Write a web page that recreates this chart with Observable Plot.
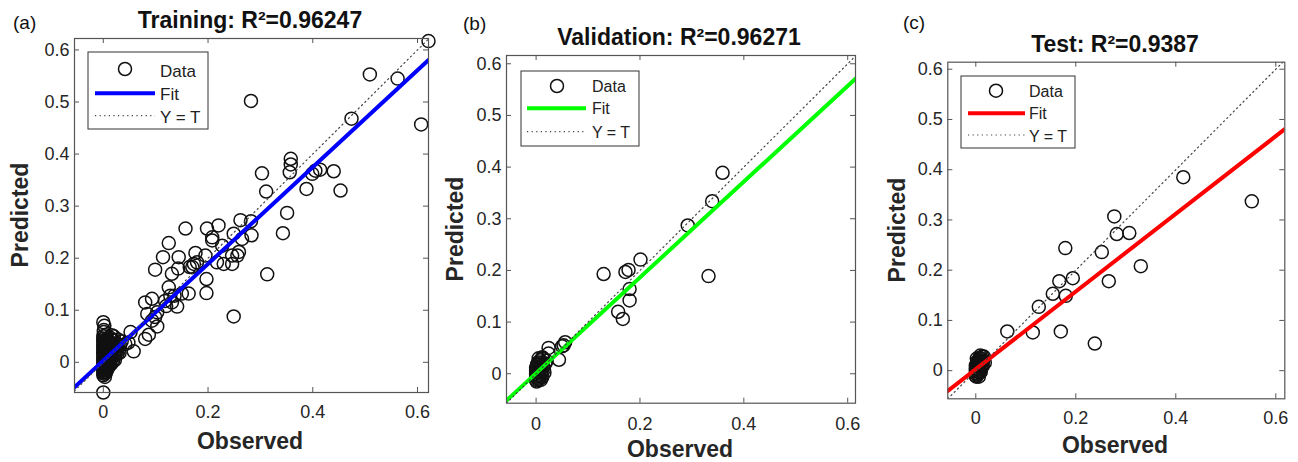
<!DOCTYPE html>
<html><head><meta charset="utf-8">
<script src="https://cdn.jsdelivr.net/npm/d3@7"></script>
<script src="https://cdn.jsdelivr.net/npm/@observablehq/plot@0.6"></script>
<style>
body{margin:0;background:#fff;}
#root{position:relative;width:1298px;height:462px;overflow:hidden;background:#fff;font-family:"Liberation Sans",Arial,Helvetica,sans-serif;}
#root > div.panel{position:absolute;top:0;}
#overlay{position:absolute;left:0;top:0;pointer-events:none;}
</style>
</head><body>
<div id="root"></div>
<script>
// ---------- data ----------
const xTicks = [0, 0.2, 0.4, 0.6];
const yTicks = [0, 0.1, 0.2, 0.3, 0.4, 0.5, 0.6];
const panelTags = ["(a)", "(b)", "(c)"];
const panelTitles = ["Training: R\u00b2=0.96247", "Validation: R\u00b2=0.96271", "Test: R\u00b2=0.9387"];
const xLabel = "Observed";
const yLabel = "Predicted";
const legendNames = ["Data", "Fit", "Y = T"];
const fitColors = ["#0000ff", "#00ff00", "#ff0000"];
const fitSlopes = [0.930, 0.927, 0.773];
const fitIntercepts = [0.003, 0.001, 0.003];

const trainObs = [0.621,0.509,0.562,0.282,0.607,0.474,0.358,0.358,0.356,0.303,0.311,0.388,0.399,0.405,0.414,0.440,0.453,0.351,0.343,0.313,0.249,0.262,0.282,0.283,0.265,0.249,0.220,0.198,0.208,0.208,0.157,0.246,0.256,0.259,0.230,0.217,0.246,0.227,0.195,0.176,0.173,0.170,0.179,0.165,0.197,0.197,0.163,0.150,0.141,0.131,0.128,0.125,0.131,0.144,0.143,0.114,0.125,0.099,0.103,0.093,0.103,0.084,0.080,0.093,0.087,0.080,0.052,0.058,0.048,0.042,0.099,0.118,0.120,0.136,0.000,0.000,0.002,
 0,0,0,0,0,0,0,0,0,0,0,0,0,0,0,0,0.002,0.002,0.002,0.002,0.003,0.004,0.004,0.004,0.005,0.005,0.006,0.006,0.007,0.008,0.008,0.008,0.010,0.010,0.011,0.012,0.012,0.014,0.014,0.015,0.016,0.018,0.018,0.020,0.021,0.022,0.024,0.025,0.027,0.028,0.030,0.032,0.001,0.003,0.001,0.016,0.035,0.020,
 0.001,0.001,0.001,0.001,0.001,0.001,0.003,0.003,0.003,0.003,0.003,0.005,0.005,0.005,0.005,0.005,0.007,0.007,0.007,0.007,0.009,0.009,0.009,0.009,0.011,0.011,0.011,0.013,0.013,0.013,0.015,0.015,0.017,0.017,0.019,0.019,0.023,0.026,0.029,0.031];
const trainPred = [0.617,0.553,0.545,0.502,0.457,0.468,0.391,0.380,0.365,0.363,0.328,0.333,0.362,0.368,0.370,0.367,0.330,0.287,0.248,0.169,0.088,0.273,0.271,0.244,0.237,0.247,0.263,0.257,0.240,0.234,0.257,0.205,0.205,0.212,0.189,0.192,0.189,0.224,0.205,0.210,0.189,0.183,0.192,0.183,0.160,0.133,0.132,0.132,0.107,0.115,0.128,0.144,0.170,0.202,0.180,0.202,0.229,0.178,0.096,0.080,0.069,0.093,0.115,0.122,0.053,0.045,0.058,0.021,0.038,0.035,0.087,0.118,0.108,0.128,-0.058,0.077,0.070,
 -0.025,-0.020,-0.015,-0.010,-0.005,0,0.005,0.010,0.015,0.020,0.025,0.030,0.035,0.040,0.045,0.050,-0.022,-0.008,0.012,0.028,0.042,-0.018,0.004,0.020,0.036,0.052,-0.012,0.008,0.026,-0.004,0.015,0.044,0.002,0.032,-0.008,0.018,0.048,0.006,0.038,0.024,-0.002,0.012,0.030,0.042,0.020,0.004,0.028,0.036,0.016,0.044,0.024,0.032,0.058,-0.028,0.062,0.052,0.040,0.050,
 -0.018,-0.012,-0.003,0.008,0.018,0.033,-0.014,0.000,0.015,0.024,0.036,-0.020,-0.006,0.010,0.028,0.044,-0.015,0.000,0.018,0.034,-0.010,0.008,0.022,0.040,0.000,0.012,0.028,-0.004,0.022,0.034,0.010,0.044,0.018,0.036,0.004,0.026,0.014,0.024,0.034,0.018];

const valObs = [0.359,0.339,0.292,0.201,0.178,0.172,0.130,0.332,0.180,0.180,0.158,0.167,0.056,0.053,0.050,0.024,0.044,0.024,0.012,
 0,0,0,0,0,0.002,0.003,0.004,0.005,0.006,0.007,0.008,0.010,0.010,0.012,0.013,0.015,0.018,0.020,0.005,
 0.001,0.002,0.002,0.003,0.004,0.004,0.006,0.006,0.008,0.008,0.011,0.011,0.014,0.016,0.009];
const valPred = [0.389,0.334,0.287,0.221,0.201,0.197,0.193,0.189,0.164,0.142,0.120,0.106,0.061,0.055,0.053,0.050,0.027,0.039,0.032,
 -0.012,-0.006,0,0.006,0.012,0.018,-0.003,0.022,0.004,-0.010,0.010,0.026,0,0.016,-0.006,0.030,0.008,0.020,0.025,0.030,
 -0.015,-0.008,0.004,0.012,-0.012,0.008,0.002,0.018,-0.006,0.012,0.006,0.022,0.014,0.002,-0.012];

const testObs = [0.552,0.415,0.277,0.282,0.307,0.179,0.252,0.330,0.167,0.194,0.266,0.154,0.180,0.126,0.063,0.114,0.170,0.238,
 0,0,0,0,0,0.002,0.003,0.004,0.005,0.006,0.008,0.008,0.010,0.012,0.014,0.016,0.009,0.018,0.002,0.006,
 0.001,0.002,0.002,0.003,0.004,0.004,0.005,0.006,0.007,0.007,0.009,0.010,0.011,0.012,0.013,0.015];
const testPred = [0.337,0.385,0.307,0.272,0.274,0.244,0.236,0.208,0.178,0.184,0.178,0.153,0.149,0.127,0.078,0.076,0.078,0.054,
 -0.010,-0.005,0,0.005,0.010,0.015,-0.008,0.020,0.003,0.012,-0.004,0.025,0.006,0.018,0.010,0.028,0.030,0.016,0.024,-0.012,
 -0.012,-0.002,0.008,0.018,-0.006,0.004,0.014,0.022,0.000,0.008,0.016,-0.002,0.024,0.008,0.028,0.020];

const obsSets = [trainObs, valObs, testObs];
const predSets = [trainPred, valPred, testPred];

// ---------- layout ----------
const layout = [
  {left:0,   width:440, ml:74,   mr:12,   mt:38,   mb:70,   xdom:[-0.055,0.621], ydom:[-0.058,0.622], xpad:13,
   tag:[13,29], title:[250,28], xl:[250,449], yl:[28,215],
   leg:{x:88,y:52,w:120,h:77, lx0:95,lx1:155, cx:125, rows:[69,93.3,115.7], tx:160, tb:[76.5,100,122.5], fs:17}},
  {left:440, width:430, ml:66,   mr:15,   mt:55,   mb:59.3, xdom:[-0.057,0.615], ydom:[-0.057,0.616], xpad:14,
   tag:[463,29.5], title:[679,44.5], xl:[680,457], yl:[463,229],
   leg:{x:521,y:71,w:118,h:75, lx0:527,lx1:586, cx:557, rows:[86,108.3,131.7], tx:592, tb:[92.3,114.3,137.7], fs:16}},
  {left:870, width:428, ml:77.3, mr:13.7, mt:61.7, mb:63.7, xdom:[-0.056,0.618], ydom:[-0.056,0.614], xpad:12,
   tag:[903,29], title:[1115,51.7], xl:[1115,453], yl:[905,230],
   leg:{x:961,y:76,w:114,h:72, lx0:968,lx1:1025, cx:996, rows:[90.7,113.3,135], tx:1029, tb:[97.3,119.3,141.7], fs:16}}
];

const root = document.getElementById("root");
const FONT = '"Liberation Sans", Arial, Helvetica, sans-serif';
const AX = "#555";

layout.forEach((L, i) => {
  const H = 462;
  const [x0, x1] = L.xdom, [y0, y1] = L.ydom;
  const fw = L.width - L.ml - L.mr, fh = H - L.mt - L.mb;
  const tlx = 5 * (y1 - y0) / fh, tly = 5 * (x1 - x0) / fw;
  const pts = obsSets[i].map((o, k) => ({o, p: predSets[i][k]}));
  const fit = L.xdom.map(x => ({x, y: fitSlopes[i] * x + fitIntercepts[i]}));
  const ident = L.xdom.map(x => ({x, y: x}));
  const svg = Plot.plot({
    width: L.width, height: H,
    marginLeft: L.ml, marginRight: L.mr, marginTop: L.mt, marginBottom: L.mb,
    x: {domain: L.xdom},
    y: {domain: L.ydom},
    style: {fontFamily: FONT, fontSize: "18px", color: "#262626", background: "transparent", overflow: "visible"},
    marks: [
      Plot.axisX(xTicks, {tickSize: 0, tickPadding: L.xpad, label: null, tickFormat: d => String(d), fontSize: 18, fill: "#262626"}),
      Plot.axisY(yTicks, {tickSize: 0, tickPadding: 5, label: null, tickFormat: d => String(d), fontSize: 18, fill: "#262626"}),
      Plot.ruleX(xTicks, {x: d => d, y1: y0, y2: y0 + tlx, stroke: AX, strokeWidth: 1}),
      Plot.ruleX(xTicks, {x: d => d, y1: y1, y2: y1 - tlx, stroke: AX, strokeWidth: 1}),
      Plot.ruleY(yTicks, {y: d => d, x1: x0, x2: x0 + tly, stroke: AX, strokeWidth: 1}),
      Plot.ruleY(yTicks, {y: d => d, x1: x1, x2: x1 - tly, stroke: AX, strokeWidth: 1}),
      Plot.dot(pts, {x: "o", y: "p", r: 6.5, stroke: "#111", strokeWidth: 1.5, fill: "none"}),
      Plot.line(fit, {x: "x", y: "y", stroke: fitColors[i], strokeWidth: 4, clip: true}),
      Plot.line(ident, {x: "x", y: "y", stroke: "#444", strokeWidth: 1.2, strokeDasharray: "1.2,3.4", clip: true}),
      Plot.frame({stroke: AX, strokeWidth: 1.2})
    ]
  });
  const wrap = document.createElement("div");
  wrap.className = "panel";
  wrap.style.left = L.left + "px";
  wrap.appendChild(svg);
  root.appendChild(wrap);
});

// ---------- overlay: titles, labels, legends ----------
const ov = d3.select(root).append("svg").attr("id", "overlay")
  .attr("width", 1298).attr("height", 462)
  .style("font-family", FONT).attr("fill", "#111");

layout.forEach((L, i) => {
  ov.append("text").attr("x", L.tag[0]).attr("y", L.tag[1]).attr("font-size", 19).text(panelTags[i]);
  ov.append("text").attr("x", L.title[0]).attr("y", L.title[1]).attr("text-anchor", "middle")
    .attr("font-size", 23).attr("font-weight", "bold").text(panelTitles[i]);
  ov.append("text").attr("x", L.xl[0]).attr("y", L.xl[1]).attr("text-anchor", "middle")
    .attr("font-size", 23).attr("font-weight", "bold").attr("fill", "#262626").text(xLabel);
  ov.append("text").attr("transform", `translate(${L.yl[0]},${L.yl[1]}) rotate(-90)`).attr("text-anchor", "middle")
    .attr("font-size", 23).attr("font-weight", "bold").attr("fill", "#262626").text(yLabel);
  const g = L.leg;
  ov.append("rect").attr("x", g.x).attr("y", g.y).attr("width", g.w).attr("height", g.h)
    .attr("fill", "#fff").attr("stroke", "#333").attr("stroke-width", 1);
  ov.append("circle").attr("cx", g.cx).attr("cy", g.rows[0]).attr("r", 6.5)
    .attr("fill", "none").attr("stroke", "#111").attr("stroke-width", 1.5);
  ov.append("line").attr("x1", g.lx0).attr("x2", g.lx1).attr("y1", g.rows[1]).attr("y2", g.rows[1])
    .attr("stroke", fitColors[i]).attr("stroke-width", 4);
  ov.append("line").attr("x1", g.lx0).attr("x2", g.lx1).attr("y1", g.rows[2]).attr("y2", g.rows[2])
    .attr("stroke", "#444").attr("stroke-width", 1.2).attr("stroke-dasharray", "1.2,3.4");
  legendNames.forEach((n, k) => {
    ov.append("text").attr("x", g.tx).attr("y", g.tb[k]).attr("font-size", g.fs).attr("fill", "#222").text(n);
  });
});
</script>
</body></html>
